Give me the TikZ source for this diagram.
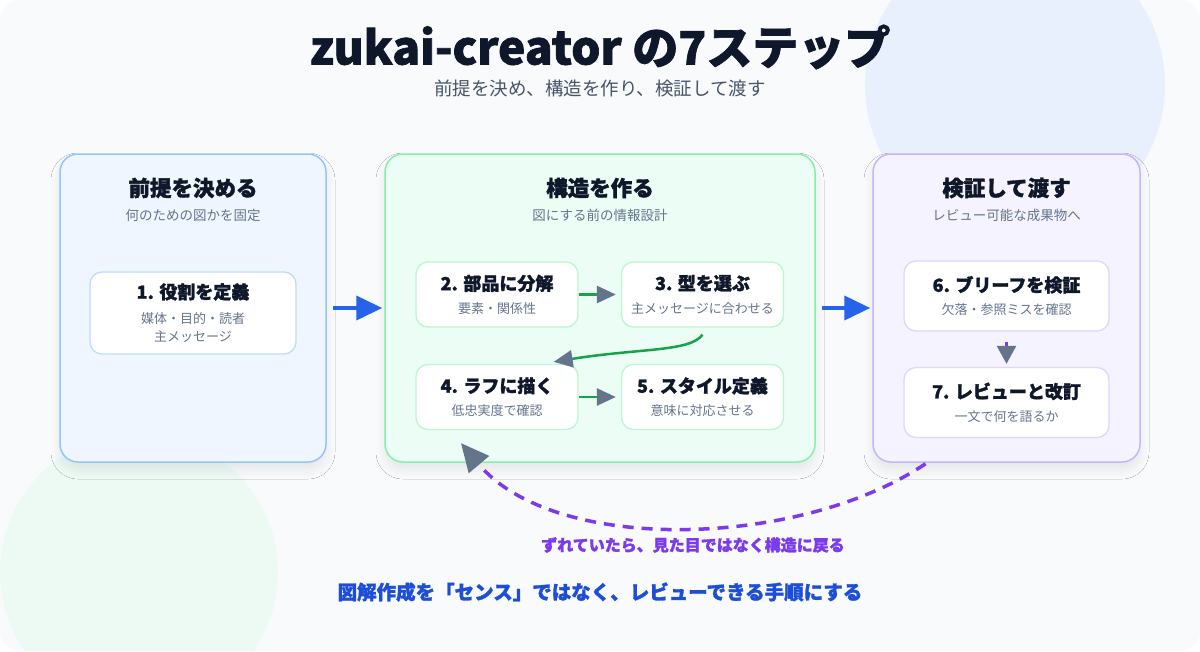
\documentclass[tikz,border=0pt]{standalone}
\usepackage{fontspec}
\setmainfont{Noto Sans CJK JP}
\newfontfamily\heavyfont{Noto Sans CJK JP}[BoldFeatures={FakeBold=1.5}]
\usepackage{xcolor}
\usepackage{tikz}
\usetikzlibrary{
  arrows.meta,
  positioning,
  calc,
  shadows.blur
}
\definecolor{pagebg}{RGB}{248,250,252}
\definecolor{bubbleblue}{RGB}{233,240,253}
\definecolor{bubblegreen}{RGB}{237,250,243}
\definecolor{inkdark}{RGB}{15,23,42}
\definecolor{notegray}{RGB}{100,116,139}
\definecolor{leadgray}{RGB}{71,85,105}
\definecolor{premisefill}{RGB}{239,246,255}
\definecolor{premiseedge}{RGB}{147,197,253}
\definecolor{premiseline}{RGB}{191,219,254}
\definecolor{buildfill}{RGB}{236,253,245}
\definecolor{buildedge}{RGB}{134,239,172}
\definecolor{buildline}{RGB}{187,247,208}
\definecolor{verifyfill}{RGB}{245,243,255}
\definecolor{verifyedge}{RGB}{196,181,253}
\definecolor{verifyline}{RGB}{221,214,254}
\definecolor{flowblue}{RGB}{37,99,235}
\definecolor{stepgreen}{RGB}{22,163,74}
\definecolor{tipgray}{RGB}{100,116,139}
\definecolor{loopviolet}{RGB}{124,58,237}
\definecolor{mottoblue}{RGB}{29,78,216}
\newcommand{\steptitle}[1]{{\fontsize{18}{18}\selectfont\heavyfont\bfseries\color{inkdark}#1}}
\tikzset{
  stagepanel/.style={
    draw,
    line width=1.5pt,
    rounded corners=18pt,
    minimum width=266pt,
    minimum height=308pt,
    blur shadow={shadow xshift=0pt,shadow yshift=-8pt,shadow blur radius=9pt,shadow blur steps=12,shadow opacity=8}
  },
  premisepanel/.style={stagepanel,draw=premiseedge,fill=premisefill},
  buildpanel/.style={stagepanel,draw=buildedge,fill=buildfill,minimum width=430pt},
  verifypanel/.style={stagepanel,draw=verifyedge,fill=verifyfill,minimum width=267pt},
  stepbox/.style={
    draw,
    line width=1.3pt,
    fill=white,
    rounded corners=12pt,
    align=center,
    inner sep=0pt,
    text=notegray,
    font=\fontsize{13}{18}\selectfont
  },
  premisebox/.style={stepbox,draw=premiseline,minimum width=206pt,minimum height=82pt},
  buildbox/.style={stepbox,draw=buildline,minimum width=162pt,minimum height=65pt},
  verifybox/.style={stepbox,draw=verifyline,minimum width=205pt,minimum height=70pt},
  stagetitle/.style={font=\fontsize{21.5}{24}\selectfont\heavyfont\bfseries,text=inkdark,inner sep=0pt},
  stagenote/.style={font=\fontsize{13.5}{16}\selectfont,text=notegray,inner sep=0pt},
  stagearrow/.style={-{Triangle[length=26pt,width=24pt]},line width=4pt,draw=flowblue,shorten <=6pt,shorten >=2pt},
  stepline/.style={-{Triangle[length=19pt,width=17pt,color=tipgray]},line width=2.5pt,draw=stepgreen},
  loopline/.style={-{Triangle[length=28pt,width=26pt,color=tipgray]},line width=3.5pt,draw=loopviolet,dash pattern=on 11pt off 8pt},
}

\begin{document}
\begin{tikzpicture}[x=1pt,y=-1pt]
  \useasboundingbox (0,0) rectangle (1200,651);
  % backdrop
  \begin{scope}
    \clip[rounded corners=20pt] (0,0) rectangle (1200,651);
    \fill[pagebg] (0,0) rectangle (1200,651);
    \fill[bubbleblue] (1015,85) circle (150pt);
    \fill[bubblegreen] (139,572) circle (139pt);
  \end{scope}

  \node[font=\fontsize{46}{48}\selectfont\heavyfont\bfseries,text=inkdark] (headline) at (600,47) {zukai-creator の7ステップ};
  \node[font=\fontsize{18.5}{20}\selectfont,text=leadgray] (lead) at (600,88) {前提を決め、構造を作り、検証して渡す};

  % three stages
  \node[premisepanel] (premise) at (193,308) {};
  \node[buildpanel] (build) at (600,308) {};
  \node[verifypanel] (verify) at (1006.5,308) {};

  \node[stagetitle] (premisetitle) at (193,188) {前提を決める};
  \node[stagenote] (premisenote) at (193,215) {何のための図かを固定};
  \node[stagetitle] (buildtitle) at (600,188) {構造を作る};
  \node[stagenote] (buildnote) at (600,215) {図にする前の情報設計};
  \node[stagetitle] (verifytitle) at (1006.5,188) {検証して渡す};
  \node[stagenote] (verifynote) at (1006.5,215) {レビュー可能な成果物へ};

  % steps
  \node[premisebox] (role) at (193,313) {\steptitle{1. 役割を定義}\\[7pt]媒体・目的・読者\\主メッセージ};
  \node[buildbox] (split) at (497,294.5) {\steptitle{2. 部品に分解}\\[5pt]要素・関係性};
  \node[buildbox] (pick) at (702.5,294.5) {\steptitle{3. 型を選ぶ}\\[5pt]主メッセージに合わせる};
  \node[buildbox] (rough) at (497,397) {\steptitle{4. ラフに描く}\\[5pt]低忠実度で確認};
  \node[buildbox] (styling) at (702.5,397) {\steptitle{5. スタイル定義}\\[5pt]意味に対応させる};
  \node[verifybox] (brief) at (1006.5,296) {\steptitle{6. ブリーフを検証}\\[5pt]欠落・参照ミスを確認};
  \node[verifybox] (revise) at (1006.5,402.5) {\steptitle{7. レビューと改訂}\\[5pt]一文で何を語るか};

  % connectors
  \draw[stagearrow] (premise.east) -- (build.west);
  \draw[stagearrow] (build.east) -- (verify.west);
  \draw[stepline] (split.east) -- ($(pick.west)+(-5,0)$);
  \draw[stepline] (rough.east) -- ($(styling.west)+(-5,0)$);
  \draw[stepline] ($(pick.south)+(0,7)$) .. controls (690,352) and (640,348) .. ($(rough.north east)+(-25,-2)$);
  \draw[-{Triangle[length=18pt,width=19pt,color=tipgray]},line width=2.5pt,draw=loopviolet]
    ($(brief.south)+(0,10)$) -- ($(revise.north)+(0,-3)$);
  \draw[loopline] ($(verify.south)+(-81,1)$) .. controls (800,548) and (555,555) .. ($(rough.south)+(-36,13)$);
  \node[font=\fontsize{16}{18}\selectfont\heavyfont\bfseries,text=loopviolet] (looplabel) at (693,545) {ずれていたら、見た目ではなく構造に戻る};

  \node[font=\fontsize{19.5}{22}\selectfont\heavyfont\bfseries,text=mottoblue] (motto) at (600,592) {図解作成を「センス」ではなく、レビューできる手順にする};
\end{tikzpicture}
\end{document}
